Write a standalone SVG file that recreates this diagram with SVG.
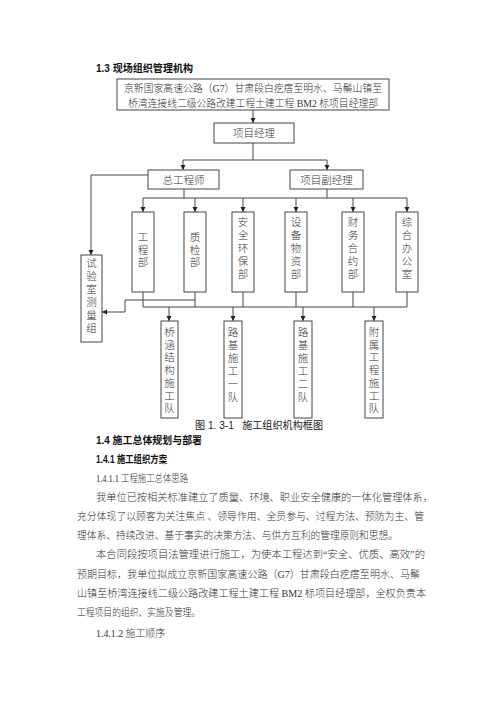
<svg xmlns="http://www.w3.org/2000/svg" width="500" height="707" viewBox="0 0 500 707">
<defs>
<style>
.bx{fill:#fff;stroke:#444;stroke-width:1}
.ln{fill:none;stroke:#444;stroke-width:1}
.t{font-family:"Liberation Serif","Noto Sans CJK SC",serif;font-size:10.5px;font-weight:300;fill:#333}
.c{text-anchor:middle}
.h{font-family:"Liberation Sans","Noto Sans CJK SC",sans-serif;font-weight:bold;font-size:10.5px;fill:#111}
.cap{font-family:"Liberation Sans","Noto Sans CJK SC",sans-serif;font-size:10.5px;fill:#222}
</style>
<marker id="ar" markerUnits="userSpaceOnUse" markerWidth="6" markerHeight="6" refX="5" refY="3" orient="auto">
<path d="M0,0.5 L5,3 L0,5.5 Z" fill="#222"/>
</marker>
</defs>
<rect width="500" height="707" fill="#fff"/>

<text class="h" x="96" y="72" textLength="97" lengthAdjust="spacingAndGlyphs">1.3 现场组织管理机构</text>

<g id="connectors">
<path class="ln" d="M253,110 V123" marker-end="url(#ar)"/>
<path class="ln" d="M253,143 V160 M183,160 H327"/>
<path class="ln" d="M183,160 V170" marker-end="url(#ar)"/>
<path class="ln" d="M327,160 V170" marker-end="url(#ar)"/>
<path class="ln" d="M148,175 H91 V255" marker-end="url(#ar)"/>
<path class="ln" d="M184,189 V198 M327,189 V198 M143,198 H407"/>
<path class="ln" d="M143,198 V212" marker-end="url(#ar)"/>
<path class="ln" d="M195,198 V212" marker-end="url(#ar)"/>
<path class="ln" d="M243,198 V212" marker-end="url(#ar)"/>
<path class="ln" d="M296,198 V212" marker-end="url(#ar)"/>
<path class="ln" d="M353,198 V212" marker-end="url(#ar)"/>
<path class="ln" d="M407,198 V212" marker-end="url(#ar)"/>
<path class="ln" d="M143,292 V307 M195,292 V307 M243,292 V307 M296,292 V307 M353,292 V307 M407,292 V307 M143,307 H407"/>
<path class="ln" d="M195,300 H125 V312 H102" marker-end="url(#ar)"/>
<path class="ln" d="M169,307 V321" marker-end="url(#ar)"/>
<path class="ln" d="M233,307 V321" marker-end="url(#ar)"/>
<path class="ln" d="M303,307 V321" marker-end="url(#ar)"/>
<path class="ln" d="M374,307 V321" marker-end="url(#ar)"/>
</g>

<g id="hq">
<rect class="bx" x="117" y="79" width="272" height="31"/>
<text class="t c" x="253" y="92" font-size="10" textLength="258" lengthAdjust="spacingAndGlyphs">京新国家高速公路（G7）甘肃段白疙瘩至明水、马鬃山镇至</text>
<text class="t c" x="253" y="107" font-size="10" textLength="250" lengthAdjust="spacingAndGlyphs">桥湾连接线二级公路改建工程土建工程 BM2 标项目经理部</text>
</g>
<g id="pm">
<rect class="bx" x="214" y="123" width="80" height="20"/>
<text class="t c" x="254" y="137">项目经理</text>
</g>
<g id="chief">
<rect class="bx" x="148" y="170" width="71" height="19"/>
<text class="t c" x="183.5" y="183.5">总工程师</text>
</g>
<g id="deputy">
<rect class="bx" x="290" y="170" width="73" height="19"/>
<text class="t c" x="326.5" y="183.5">项目副经理</text>
</g>

<g id="lab">
<rect class="bx" x="81" y="255" width="21" height="87"/>
<text class="t c" x="91.5" y="267"><tspan x="91.5">试</tspan><tspan x="91.5" dy="13">验</tspan><tspan x="91.5" dy="13">室</tspan><tspan x="91.5" dy="13">测</tspan><tspan x="91.5" dy="13">量</tspan><tspan x="91.5" dy="13">组</tspan></text>
</g>
<g id="d1">
<rect class="bx" x="132" y="212" width="22" height="80"/>
<text class="t c" x="143" y="241"><tspan x="143">工</tspan><tspan x="143" dy="12.5">程</tspan><tspan x="143" dy="12.5">部</tspan></text>
</g>
<g id="d2">
<rect class="bx" x="184" y="212" width="22" height="80"/>
<text class="t c" x="195" y="241"><tspan x="195">质</tspan><tspan x="195" dy="12.5">检</tspan><tspan x="195" dy="12.5">部</tspan></text>
</g>
<g id="d3">
<rect class="bx" x="232" y="212" width="22" height="80"/>
<text class="t c" x="243" y="226"><tspan x="243">安</tspan><tspan x="243" dy="13">全</tspan><tspan x="243" dy="13">环</tspan><tspan x="243" dy="13">保</tspan><tspan x="243" dy="13">部</tspan></text>
</g>
<g id="d4">
<rect class="bx" x="285" y="212" width="22" height="80"/>
<text class="t c" x="296" y="226"><tspan x="296">设</tspan><tspan x="296" dy="13">备</tspan><tspan x="296" dy="13">物</tspan><tspan x="296" dy="13">资</tspan><tspan x="296" dy="13">部</tspan></text>
</g>
<g id="d5">
<rect class="bx" x="342" y="212" width="22" height="80"/>
<text class="t c" x="353" y="226"><tspan x="353">财</tspan><tspan x="353" dy="13">务</tspan><tspan x="353" dy="13">合</tspan><tspan x="353" dy="13">约</tspan><tspan x="353" dy="13">部</tspan></text>
</g>
<g id="d6">
<rect class="bx" x="396" y="212" width="22" height="80"/>
<text class="t c" x="407" y="226"><tspan x="407">综</tspan><tspan x="407" dy="13">合</tspan><tspan x="407" dy="13">办</tspan><tspan x="407" dy="13">公</tspan><tspan x="407" dy="13">室</tspan></text>
</g>

<g id="team1">
<rect class="bx" x="161" y="321" width="17" height="97"/>
<text class="t c" x="169.5" y="336"><tspan x="169.5">桥</tspan><tspan x="169.5" dy="12.7">涵</tspan><tspan x="169.5" dy="12.7">结</tspan><tspan x="169.5" dy="12.7">构</tspan><tspan x="169.5" dy="12.7">施</tspan><tspan x="169.5" dy="12.7">工</tspan><tspan x="169.5" dy="12.7">队</tspan></text>
</g>
<g id="team2">
<rect class="bx" x="224" y="321" width="18" height="97"/>
<text class="t c" x="233" y="336"><tspan x="233">路</tspan><tspan x="233" dy="13">基</tspan><tspan x="233" dy="13">施</tspan><tspan x="233" dy="13">工</tspan><tspan x="233" dy="13">一</tspan><tspan x="233" dy="13">队</tspan></text>
</g>
<g id="team3">
<rect class="bx" x="294" y="321" width="18" height="97"/>
<text class="t c" x="303" y="336"><tspan x="303">路</tspan><tspan x="303" dy="13">基</tspan><tspan x="303" dy="13">施</tspan><tspan x="303" dy="13">工</tspan><tspan x="303" dy="13">二</tspan><tspan x="303" dy="13">队</tspan></text>
</g>
<g id="team4">
<rect class="bx" x="365" y="321" width="18" height="97"/>
<text class="t c" x="374" y="336"><tspan x="374">附</tspan><tspan x="374" dy="12.7">属</tspan><tspan x="374" dy="12.7">工</tspan><tspan x="374" dy="12.7">程</tspan><tspan x="374" dy="12.7">施</tspan><tspan x="374" dy="12.7">工</tspan><tspan x="374" dy="12.7">队</tspan></text>
</g>

<text class="cap" x="195" y="429" textLength="128" lengthAdjust="spacingAndGlyphs" xml:space="preserve">图 1. 3-1   施工组织机构框图</text>

<text class="h" x="96" y="444" textLength="106" lengthAdjust="spacingAndGlyphs">1.4 施工总体规划与部署</text>
<text class="h" x="96" y="463" textLength="71" lengthAdjust="spacingAndGlyphs">1.4.1 施工组织方案</text>
<text class="t" x="96" y="482" textLength="92" lengthAdjust="spacingAndGlyphs">1.4.1.1 工程施工总体思路</text>
<text class="t" x="96" y="501" textLength="337" lengthAdjust="spacingAndGlyphs">我单位已按相关标准建立了质量、环境、职业安全健康的一体化管理体系，</text>
<text class="t" x="77" y="520" textLength="347" lengthAdjust="spacingAndGlyphs">充分体现了以顾客为关注焦点 、领导作用、全员参与、过程方法、预防为主、管</text>
<text class="t" x="77" y="539" textLength="321" lengthAdjust="spacingAndGlyphs">理体系、持续改进、基于事实的决策方法、与供方互利的管理原则和思想。</text>
<text class="t" x="96" y="558" textLength="329" lengthAdjust="spacingAndGlyphs">本合同段按项目法管理进行施工，为使本工程达到“安全、优质、高效”的</text>
<text class="t" x="77" y="578" textLength="343" lengthAdjust="spacingAndGlyphs">预期目标，我单位拟成立京新国家高速公路（G7）甘肃段白疙瘩至明水、马鬃</text>
<text class="t" x="77" y="597" textLength="349" lengthAdjust="spacingAndGlyphs">山镇至桥湾连接线二级公路改建工程土建工程 BM2 标项目经理部，全权负责本</text>
<text class="t" x="77" y="616" textLength="123" lengthAdjust="spacingAndGlyphs">工程项目的组织、实施及管理。</text>
<text class="t" x="96" y="637" textLength="69" lengthAdjust="spacingAndGlyphs">1.4.1.2 施工顺序</text>
</svg>
